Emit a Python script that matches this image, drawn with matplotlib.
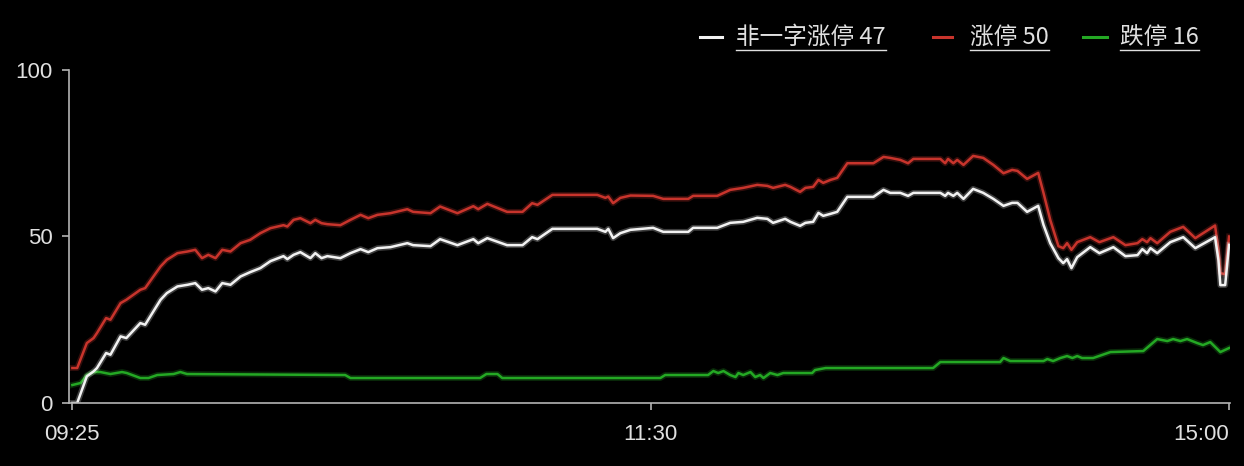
import matplotlib
matplotlib.use("Agg")
import matplotlib.pyplot as plt
from matplotlib.lines import Line2D

# minute index: 0 = 09:25, 120 = 11:30, 240 = 15:00
t_main = [0, 1, 3, 4.4, 5.1, 7, 7.9, 10, 11.2, 14.1,
          15.1, 18.3, 19.6, 21.8, 23.9, 25.5, 26.9, 28.2, 29.7, 31.1,
          32.8, 34.9, 36.9, 39, 41.1, 43.8, 44.6, 45.9, 47.3, 49.4,
          50.4, 51.7, 52.9, 55.6, 57.7, 59.8, 61.4, 63.3, 66, 69.5,
          70.7, 74.3, 76.3, 79.9, 83.2, 84.2, 86.1, 90.2, 93.4, 95.4,
          96.5, 99.6, 108.9, 110.6, 111.2, 112.2, 113.7, 115.8, 120.5, 122.6,
          127.8, 128.8, 133.8, 136.5, 139.2, 142.1, 144.2, 145.4, 147.9, 149,
          151, 152.1, 153.7, 154.8, 155.8, 157.3, 158.7, 160.8, 166.2, 168.3,
          169.7, 171.8, 173.4, 174.5, 180.1, 181.1, 181.7, 182.8, 183.6, 184.9,
          186.9, 189, 191.1, 193.2, 195, 196.1, 198.1, 200.4, 201.5, 202.9,
          204.6, 205.6, 206.4, 207.3, 208.5, 211.2, 213.1, 216, 218.5, 221,
          222, 223, 223.7, 225.1, 227.8, 230.5, 233, 237.1, 237.8, 238.2,
          239.2, 240]

zhangting = [10.5, 10.5, 18, 19.5, 21, 25.5, 25, 30, 31, 34,
             34.5, 41, 43, 45, 45.5, 46, 43.5, 44.5, 43.5, 46,
             45.5, 48, 49, 51, 52.5, 53.4, 53, 55, 55.5, 54,
             55, 54, 53.7, 53.4, 55, 56.5, 55.5, 56.5, 57, 58.2,
             57.4, 57, 59, 57, 59.1, 58.2, 59.8, 57.4, 57.4, 60,
             59.5, 62.5, 62.5, 61.6, 62, 60, 61.6, 62.3, 62.2, 61.3,
             61.3, 62.2, 62.2, 64, 64.6, 65.5, 65.2, 64.6, 65.5, 64.9,
             63.4, 64.6, 64.9, 67, 66.1, 67, 67.6, 72, 72, 73.9,
             73.6, 73, 72, 73.3, 73.3, 72, 73.3, 72, 73, 71.5,
             74.2, 73.6, 71.5, 69, 70, 69.7, 67.3, 69.1, 63.1, 55,
             47.1, 46.5, 48, 46, 48.3, 49.8, 48.3, 49.8, 47.4, 48,
             49.2, 48.3, 49.5, 48, 51.4, 52.9, 49.5, 53.3, 46, 39,
             38.7, 50]

feiyizi = [0, 0, 8, 9.5, 10.5, 15, 14.5, 20, 19.5, 24,
           23.5, 31, 33, 35, 35.5, 36, 34, 34.5, 33.5, 36,
           35.5, 38, 39.3, 40.5, 42.6, 44.1, 43.2, 44.5, 45.3, 43.5,
           45, 43.5, 44.1, 43.5, 45, 46.2, 45.3, 46.5, 46.8, 48,
           47.4, 47.1, 49.2, 47.4, 49.2, 48, 49.5, 47.4, 47.4, 49.8,
           49.2, 52.3, 52.3, 51.4, 52.3, 49.5, 51, 52, 52.6, 51.4,
           51.4, 52.6, 52.6, 54.1, 54.4, 55.6, 55.3, 54.1, 55.3, 54.4,
           53.2, 54.1, 54.4, 57.1, 56.2, 56.8, 57.4, 61.9, 61.9, 64,
           63.1, 63.1, 62.2, 63.1, 63.1, 62.2, 63.1, 62.2, 63.1, 61.3,
           64.3, 63.1, 61.3, 59.2, 60.1, 60.1, 57.4, 59.2, 53.5, 48,
           43.5, 42, 43.2, 40.5, 43.8, 46.8, 45, 46.8, 44.1, 44.4,
           46.2, 45, 46.5, 45, 48.3, 49.8, 46.5, 49.8, 42.9, 35.4,
           35.4, 47.5]

t_green = [0, 1.7, 3, 4.4, 5.8, 7.9, 10.3, 11.3, 14.1, 15.8,
           17.6, 21, 22.4, 23.8, 56.6, 57.7, 84.6, 85.9, 88.2, 89.2,
           122, 123, 131.9, 133, 134, 135.1, 136.5, 137.6, 138.2, 139.2,
           140.7, 141.7, 142.7, 143.4, 144.8, 146.3, 147.5, 153.5, 154.1, 156.3,
           178.6, 180.1, 192.5, 193.2, 194.6, 201.5, 202.3, 203.5, 205, 206.4,
           207.5, 208.5, 209.5, 211.8, 215.4, 222.2, 225.1, 227.2, 228.4, 229.9,
           231.3, 233.4, 234.6, 236.1, 238.2, 240]

dieting = [5.4, 6, 8.4, 9.3, 9.3, 8.7, 9.3, 9, 7.5, 7.5,
           8.4, 8.7, 9.3, 8.7, 8.4, 7.5, 7.5, 8.7, 8.7, 7.5,
           7.5, 8.4, 8.4, 9.6, 9, 9.6, 8.4, 7.8, 9, 8.4,
           9.3, 7.8, 8.4, 7.5, 9, 8.4, 9, 9, 9.9, 10.5,
           10.5, 12.3, 12.3, 13.5, 12.6, 12.6, 13.2, 12.6, 13.5, 14.1,
           13.5, 14.1, 13.5, 13.5, 15.3, 15.6, 19.2, 18.6, 19.2, 18.6,
           19.2, 18, 17.4, 18.3, 15.3, 16.5]

x_ticks = [0, 120, 240]
x_labels = ["09:25", "11:30", "15:00"]
y_ticks = [0, 50, 100]

legend_labels = ["非一字涨停 47", "涨停 50", "跌停 16"]

# colores
C_WHITE = "#f2f2f2"
C_RED = "#c8342c"
C_GREEN = "#24a824"
C_AXIS = "#b4b4b4"
C_TEXT = "#e0e0e0"

fig = plt.figure(figsize=(12.44, 4.66), dpi=100, facecolor="black")
ax = fig.add_axes([69 / 1244, 63 / 466, 1161 / 1244, 333 / 466])
ax.set_facecolor("black")

# lineas con un poco de brillo
for t, y, c in [(t_green, dieting, C_GREEN), (t_main, zhangting, C_RED), (t_main, feiyizi, C_WHITE)]:
    ax.plot(t, y, color=c, lw=4.2, alpha=0.25, solid_joinstyle="round")
    ax.plot(t, y, color=c, lw=1.8, solid_joinstyle="round")

ax.set_xlim(-0.7, 240.2)
ax.set_ylim(0, 100)
ax.set_xticks(x_ticks)
ax.set_xticklabels(x_labels)
ax.set_yticks(y_ticks)

for s in ["top", "right"]:
    ax.spines[s].set_visible(False)
for s in ["left", "bottom"]:
    ax.spines[s].set_color(C_AXIS)
    ax.spines[s].set_linewidth(1.2)

ax.tick_params(axis="both", colors=C_AXIS, labelcolor=C_TEXT, width=1.2,
               labelsize=16, length=5)
ax.tick_params(axis="x", pad=10)
ax.tick_params(axis="y", pad=7)
for lab in ax.get_xticklabels() + ax.get_yticklabels():
    lab.set_family(["Liberation Sans", "DejaVu Sans"])
# la ultima etiqueta termina en el tick
ax.get_xticklabels()[-1].set_ha("right")
ax.get_xticklabels()[-1].set_x(240.6)

# leyenda manual (con subrayado)
ly = 1 - 37 / 466
handles = [(700, 722, C_WHITE, 736), (933, 952, C_RED, 970), (1083, 1107, C_GREEN, 1120)]
texts = []
for (x0, x1, c, xt), lab in zip(handles, legend_labels):
    fig.add_artist(Line2D([x0 / 1244, x1 / 1244], [ly, ly], color=c, lw=2.2,
                          transform=fig.transFigure))
    texts.append(fig.text(xt / 1244, ly, lab, color=C_TEXT, fontsize=17,
                          ha="left", va="center",
                          family=["Noto Sans CJK SC", "DejaVu Sans"]))

fig.canvas.draw()
r = fig.canvas.get_renderer()
for tx in texts:
    bb = tx.get_window_extent(r)
    yy = (bb.y0 - 1) / fig.bbox.height
    fig.add_artist(Line2D([bb.x0 / fig.bbox.width, bb.x1 / fig.bbox.width], [yy, yy],
                          color=C_TEXT, lw=1.0, transform=fig.transFigure))

fig.savefig("out.png", dpi=100, facecolor="black")
